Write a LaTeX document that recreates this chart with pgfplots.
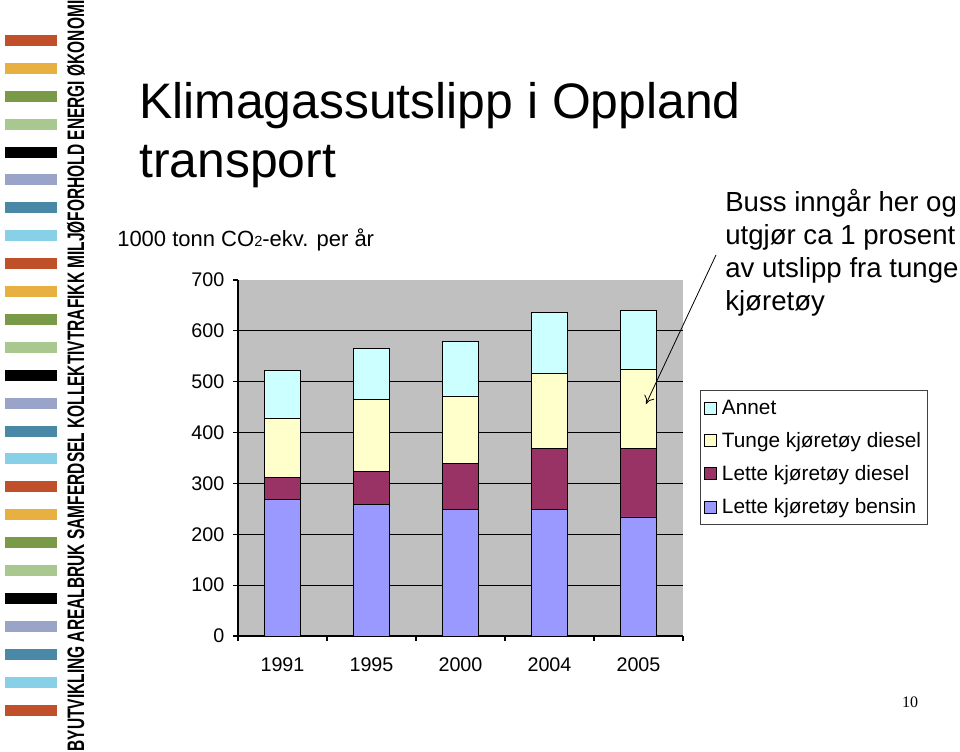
\documentclass[border=0pt]{standalone}
\usepackage{fontspec}
\setmainfont{Liberation Sans}
\newfontfamily\pagefont{Liberation Serif}
\usepackage{graphicx}
\usepackage{pgfplots}
\pgfplotsset{compat=1.18}
\usetikzlibrary{arrows.meta}

\definecolor{bensin}{HTML}{9999FF}
\definecolor{ldiesel}{HTML}{993366}
\definecolor{tdiesel}{HTML}{FFFFCC}
\definecolor{annet}{HTML}{CCFFFF}
\definecolor{plotbg}{HTML}{C0C0C0}
\definecolor{sA}{HTML}{C0502A}
\definecolor{sB}{HTML}{E8B040}
\definecolor{sC}{HTML}{7A9A48}
\definecolor{sD}{HTML}{A8C890}
\definecolor{sE}{HTML}{000000}
\definecolor{sF}{HTML}{9AA4C8}
\definecolor{sG}{HTML}{4A88A8}
\definecolor{sH}{HTML}{88D0E8}

\pgfplotstableread{
x bensin ldiesel tdiesel annet
0 268 44 115 95
1 258 65 143 99
2 248 92 132 108
3 248 121 148 120
4 234 135 156 116
}\emis

\begin{document}
\begin{tikzpicture}
\useasboundingbox (0,0) rectangle (720pt,564pt);
\begin{scope}[x=0.75pt,y=-0.75pt,shift={(0pt,564pt)}]
  \foreach \col [count=\i from 0] in {sA,sB,sC,sD,sE,sF,sG,sH,sA,sB,sC,sD,sE,sF,sG,sH,sA,sB,sC,sD,sE,sF,sG,sH,sA}
    {\fill[\col] (5,{40.5+27.9*\i-5.5}) rectangle (57,{40.5+27.9*\i+5.5});}
  \node[rotate=90, inner sep=0pt] at (76,376)
    {\resizebox*{563pt}{13.5pt}{\bfseries BYUTVIKLING AREALBRUK SAMFERDSEL KOLLEKTIVTRAFIKK MILJØFORHOLD ENERGI ØKONOMI}};
  \node[anchor=base west, inner sep=0pt, font=\fontsize{37.4pt}{44pt}\selectfont] at (139,119) {Klimagassutslipp i Oppland};
  \node[anchor=base west, inner sep=0pt, font=\fontsize{37.4pt}{44pt}\selectfont] at (139,178) {transport};
  \node[anchor=base west, inner sep=0pt, font=\fontsize{16.5pt}{20pt}\selectfont] at (117,247) {1000 tonn CO{\fontsize{11pt}{11pt}\selectfont 2}-ekv. per år};
  \foreach \t/\yy in {Buss inngår her og/212, utgjør ca 1 prosent/245, av utslipp fra tunge/278, kjøretøy/311}
    {\node[anchor=base west, inner sep=0pt, font=\fontsize{20.7pt}{25pt}\selectfont] at (725,\yy) {\t};}
  \node[anchor=base, inner sep=0pt, font=\pagefont\fontsize{12pt}{14pt}\selectfont] at (910,708) {10};
\end{scope}

\begin{axis}[
  at={(178.5pt,87pt)}, anchor=south west,
  scale only axis, width=333.75pt, height=267pt,
  ybar stacked, bar width=27pt,
  xmin=-0.5, xmax=4.5, ymin=0, ymax=700,
  axis background/.style={fill=plotbg},
  axis x line*=bottom, axis y line*=left,
  axis line style={-, black, line width=0.8pt},
  tick align=outside, major tick length=3.75pt,
  tick style={black, line width=0.8pt},
  xtick={-0.5,0.5,...,4.5}, xticklabels={},
  extra x ticks={0,1,2,3,4},
  extra x tick labels={1991,1995,2000,2004,2005},
  extra x tick style={major tick length=0pt, grid=none},
  ytick={0,100,...,600},
  extra y ticks={700},
  extra y tick style={grid=none},
  ymajorgrids, grid style={black, line width=0.8pt},
  /pgf/number format/assume math mode=true,
  ticklabel style={font=\fontsize{14.8pt}{17pt}\selectfont},
  xticklabel style={yshift=-12.5pt},
  yticklabel style={xshift=-3pt},
  reverse legend,
  legend cell align=left,
  legend style={at={(1.0382,0.691)}, anchor=north west, draw=black!75, line width=0.8pt,
    fill=white, font=\fontsize{15.6pt}{18pt}\selectfont, row sep=8pt,
    inner xsep=2.5pt, inner ysep=5pt},
  legend image code/.code={\draw[#1, draw=black, line width=0.5pt] (0pt,-4.5pt) rectangle (9pt,4.5pt); \path (11pt,0pt);},
  every axis plot/.append style={draw=black, line width=0.6pt},
]
\addplot[fill=bensin] table[x=x, y=bensin] {\emis};
\addplot[fill=ldiesel] table[x=x, y=ldiesel] {\emis};
\addplot[fill=tdiesel] table[x=x, y=tdiesel] {\emis};
\addplot[fill=annet] table[x=x, y=annet] {\emis};
\legend{Lette kjøretøy bensin, Lette kjøretøy diesel, Tunge kjøretøy diesel, Annet}
\end{axis}

\begin{scope}[x=0.75pt,y=-0.75pt,shift={(0pt,564pt)}]
  \draw[-{To[length=6pt,width=8pt]}, line width=0.6pt] (716,255) -- (646,404);
\end{scope}
\end{tikzpicture}
\end{document}
